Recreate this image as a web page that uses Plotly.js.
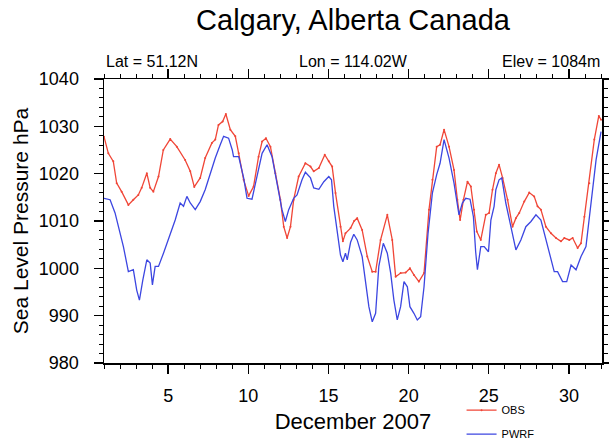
<!DOCTYPE html>
<html>
<head>
<meta charset="utf-8">
<script src="https://cdn.plot.ly/plotly-3.0.1.min.js"></script>
<style>html,body{margin:0;padding:0;background:#fff;}#chart{width:609px;height:442px;}</style>
</head>
<body>
<div id="chart"></div>
<script>
// Day of December 2007 (fractional) and sea level pressure (hPa)
const obsDay = [1.0,1.27,1.58,1.79,2.1,2.52,2.83,3.14,3.35,3.67,3.88,4.08,4.4,4.7,5.13,5.54,6.06,6.38,6.63,7.0,7.31,7.73,7.94,8.14,8.4,8.6,8.88,9.19,9.4,9.71,10.02,10.33,10.64,10.86,11.1,11.38,11.69,12.0,12.21,12.42,12.63,12.83,13.14,13.56,13.88,14.08,14.4,14.77,15.02,15.23,15.44,15.75,15.9,16.06,16.38,16.6,16.79,17.1,17.42,17.73,17.94,18.25,18.67,18.98,19.19,19.5,19.81,20.08,20.33,20.64,20.96,21.27,21.48,21.75,21.96,22.21,22.52,22.83,23.04,23.21,23.42,23.67,23.88,24.08,24.25,24.5,24.81,25.02,25.23,25.44,25.64,25.86,26.17,26.48,26.69,26.9,27.21,27.52,27.83,28.04,28.25,28.56,28.88,29.19,29.5,29.71,30.02,30.23,30.54,30.75,30.96,31.27,31.58,31.86,32.0];
const obsSlp = [1027.8,1024.3,1022.6,1018,1016.2,1013.4,1014.5,1015.5,1017,1020.1,1017,1016.2,1019.4,1025,1027.3,1025.7,1022.9,1020.5,1017.2,1019.1,1023.3,1026.5,1027.2,1030.3,1031,1032.6,1029.3,1027.9,1024.3,1018.7,1015.3,1017.3,1023.6,1026.8,1027.5,1025.7,1020.1,1014.5,1008.8,1006.4,1008.8,1014.5,1019.4,1022.2,1021.5,1020.5,1021.2,1024,1022.6,1021.5,1015.9,1008.8,1005.7,1007.4,1008.5,1010,1010.6,1008.1,1002.5,999.3,999.3,1006,1011.3,1006,998.2,999,999.1,1000,998.6,997.2,999,1012.4,1018.7,1025.7,1026.1,1029.3,1025.7,1020.8,1014.5,1010.2,1014.5,1018.3,1017.3,1012.4,1007.8,1006,1011.3,1011.7,1016.6,1020.1,1021.9,1019.1,1014.5,1008.8,1010.6,1011.7,1014.1,1016,1015.2,1013.1,1012.4,1008.8,1007.4,1006.4,1005.7,1006.4,1006,1006.4,1004.3,1005.3,1010.9,1018,1027.2,1032.2,1031.4];

const wrfDay = [1.0,1.38,1.69,1.9,2.21,2.52,2.83,3.04,3.21,3.42,3.67,3.88,4.02,4.19,4.4,4.71,5.13,5.44,5.75,5.96,6.17,6.38,6.69,7.0,7.31,7.63,7.94,8.25,8.46,8.77,9.0,9.08,9.4,9.71,9.92,10.23,10.54,10.86,11.17,11.48,11.79,12.1,12.31,12.52,12.83,13.04,13.35,13.56,13.88,14.08,14.4,14.71,15.02,15.19,15.33,15.54,15.75,15.9,16.06,16.17,16.38,16.58,16.79,17.1,17.31,17.52,17.73,17.94,18.14,18.42,18.67,18.88,19.08,19.29,19.5,19.71,19.92,20.08,20.33,20.54,20.75,20.96,21.21,21.48,21.75,21.96,22.21,22.52,22.83,23.14,23.35,23.56,23.83,24.04,24.18,24.29,24.5,24.71,24.98,25.13,25.33,25.44,25.64,25.81,26.06,26.38,26.69,27.0,27.31,27.63,27.94,28.25,28.46,28.77,29.08,29.29,29.6,29.86,30.13,30.44,30.75,31.06,31.38,31.69,32.0];
const wrfSlp = [1014.8,1014.5,1011.7,1008.8,1004.6,999.3,999.7,995.4,993.3,997.5,1001.8,1001.1,996.5,1000.4,1000.4,1003.2,1007.4,1010.2,1013.8,1013.1,1015.2,1013.8,1012.4,1014.1,1016.6,1020.1,1023.3,1026.1,1027.9,1027.5,1025,1023.6,1023.6,1019.1,1014.8,1014.6,1019.4,1024.3,1026.1,1023.6,1018,1012.4,1009.9,1012.4,1014.8,1015.5,1018.7,1020.3,1019.1,1017,1016.7,1018.3,1019.4,1018.7,1013.1,1007.4,1002.8,1001.4,1003.2,1001.8,1005.5,1007.2,1006,1002.5,996.9,991.9,988.7,990.5,1000.4,1005.3,1003.2,999,993.3,989.1,991.9,997.2,996.1,991.9,990.5,989.1,989.8,996.1,1007.4,1015.9,1019.8,1022.2,1027.2,1023.3,1018,1011.3,1013.8,1014.8,1014.6,1010.9,1003.5,999.7,1004.6,1004.6,1003.5,1010.2,1013.1,1016.6,1018.7,1019.1,1013.8,1008.8,1003.9,1006,1008.8,1009.9,1011.3,1010.2,1007.4,1003.2,999.3,999.3,997.2,997.2,1000.7,999.7,1002.5,1004.6,1014.5,1022.9,1028.9];

const seriesNames = ['OBS', 'PWRF'];
const xTickVals = [5, 10, 15, 20, 25, 30];
const yTickVals = [980, 990, 1000, 1010, 1020, 1030, 1040];
const titleText = 'Calgary, Alberta Canada';
const topLabels = ['Lat = 51.12N', 'Lon = 114.02W', 'Elev = 1084m'];

const FONT = 'Liberation Sans, Arial, Helvetica, sans-serif';

const traces = [
  {x: obsDay, y: obsSlp, name: seriesNames[0], type: 'scatter', mode: 'lines+markers',
   line: {color: 'rgb(240,70,55)', width: 1.3}, marker: {size: 2, color: 'rgb(240,70,55)'},
   legendgroup: 'a'},
  {x: wrfDay, y: wrfSlp, name: seriesNames[1], type: 'scatter', mode: 'lines',
   line: {color: 'rgb(60,70,225)', width: 1.3}, legendgroup: 'b'}
];

const axisCommon = {
  showline: true, linecolor: '#000', linewidth: 1.5, mirror: 'allticks',
  ticks: 'outside', ticklen: 9, tickwidth: 1.3, tickcolor: '#000',
  showgrid: false, zeroline: false,
  tickfont: {family: FONT, size: 18, color: '#000'}
};

const layout = {
  width: 609, height: 442,
  margin: {l: 104, r: 7, t: 79, b: 79, autoexpand: false},
  paper_bgcolor: '#fff', plot_bgcolor: '#fff',
  font: {family: FONT, color: '#000'},
  title: {text: titleText, font: {family: FONT, size: 29, color: '#000'},
          x: 0.5, xref: 'paper', xanchor: 'center', y: 0.955, yanchor: 'middle'},
  xaxis: Object.assign({}, axisCommon, {
    range: [1, 32.06], tickvals: xTickVals, ticktext: xTickVals.map(String),
    ticklabelstandoff: 7,
    minor: {dtick: 1, tick0: 0, ticks: 'outside', ticklen: 4, tickcolor: '#000', tickwidth: 1},
    title: {text: 'December 2007', font: {family: FONT, size: 22, color: '#000'}, standoff: 8}
  }),
  yaxis: Object.assign({}, axisCommon, {
    range: [980, 1040], tickvals: yTickVals, ticktext: yTickVals.map(String),
    ticklabelstandoff: 11,
    minor: {dtick: 2, tick0: 980, ticks: 'outside', ticklen: 4, tickcolor: '#000', tickwidth: 1},
    title: {text: 'Sea Level Pressure hPa', font: {family: FONT, size: 21, color: '#000'}, standoff: 4}
  }),
  showlegend: true,
  legend: {x: 0.718, xanchor: 'left', y: -0.115, yanchor: 'top', orientation: 'v',
           traceorder: 'grouped', tracegroupgap: 5, itemwidth: 30,
           font: {family: FONT, size: 11, color: '#000'}, bgcolor: 'rgba(0,0,0,0)'},
  annotations: [
    {text: topLabels[0], xref: 'paper', yref: 'paper', x: 0, y: 1, xanchor: 'left', yanchor: 'bottom', yshift: 7, showarrow: false, font: {family: FONT, size: 16, color: '#000'}},
    {text: topLabels[1], xref: 'paper', yref: 'paper', x: 0.5, y: 1, xanchor: 'center', yanchor: 'bottom', yshift: 7, showarrow: false, font: {family: FONT, size: 16, color: '#000'}},
    {text: topLabels[2], xref: 'paper', yref: 'paper', x: 1, y: 1, xanchor: 'right', yanchor: 'bottom', yshift: 7, showarrow: false, font: {family: FONT, size: 16, color: '#000'}}
  ]
};

Plotly.newPlot('chart', traces, layout, {staticPlot: true, displayModeBar: false});
</script>
</body>
</html>
